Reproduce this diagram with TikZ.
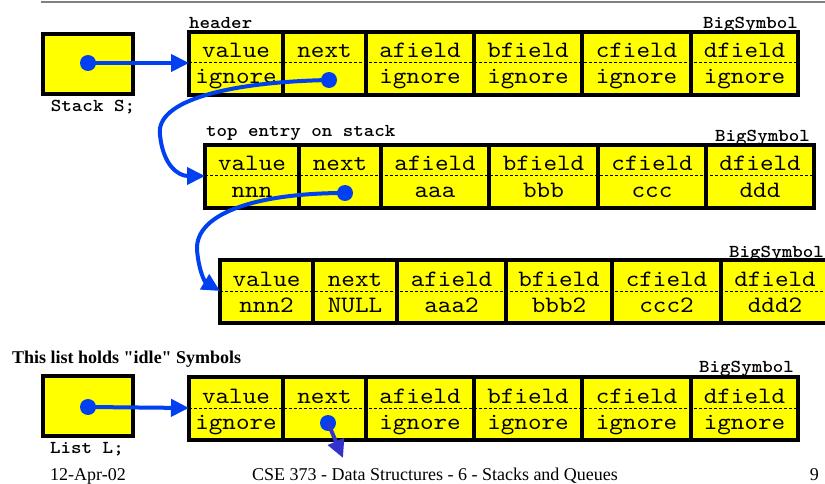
\documentclass[tikz,border=0pt]{standalone}
\usepackage{fontspec}
\setmainfont{Liberation Serif}
\newfontfamily\idlefont[Ligatures=TeXOff]{Liberation Serif}
\newfontfamily\courfont[FakeStretch=1.1, BoldFont=lmmonolt10-bold.otf, BoldFeatures={FakeStretch=1.1}]{lmmono10-regular.otf}
\usetikzlibrary{arrows.meta}
\definecolor{ptrblue}{RGB}{0,64,240}
\definecolor{ptrdark}{RGB}{51,51,204}
\definecolor{cellyellow}{RGB}{255,255,0}
\tikzset{
  fieldtxt/.style={font=\courfont\fontsize{23.5}{24}\selectfont, anchor=base, inner sep=0pt},
  lbl/.style={font=\courfont\bfseries\fontsize{18.2}{19}\selectfont, inner sep=0pt},
  serifbold/.style={font=\idlefont\bfseries\fontsize{18}{20}\selectfont, inner sep=0pt},
  foot/.style={font=\fontsize{18}{20}\selectfont, inner sep=0pt, anchor=base},
  recline/.style={line width=4pt, black},
  midline/.style={line width=1pt, black, dash pattern=on 3pt off 2pt},
  ptrbox/.style={fill=cellyellow, draw=black, line width=4pt},
  ptrdot/.style={circle, fill=ptrblue, minimum size=16pt, inner sep=0pt},
  ptrarrow/.style={ptrblue, line width=4pt, -{Triangle[length=18pt,width=17pt]}},
  ptrarrowdark/.style={ptrdark, line width=4pt, -{Triangle[length=18pt,width=17pt]}},
}
\newcommand\myrecord[5]{% #1 prefix, #2 top, #3 left, #4 right, #5 list
  \foreach \xa/\xb/\up/\lo [count=\i] in {#5} {
    \fill[cellyellow] (\xa,#2) rectangle (\xb,#2+63);
    \node[fieldtxt] (#1u\i) at ({(\xa+\xb)/2},#2+26) {\up};
    \node[fieldtxt] (#1l\i) at ({(\xa+\xb)/2},#2+52) {\lo};
  }
  \draw[midline] (#3,#2+31) -- (#4,#2+31);
  \foreach \xa/\xb/\up/\lo in {#5} {
    \draw[recline] (\xa,#2) -- (\xa,#2+63);
  }
  \draw[recline] (#3,#2) rectangle (#4,#2+63);
}
\begin{document}
\begin{tikzpicture}[x=1pt,y=-1pt]
\clip (0,0) rectangle (825,484);
\fill[white] (0,0) rectangle (825,484);
\draw[gray, line width=1.5pt] (41,2) -- (825,2);

% Stack S pointer box
\node[ptrbox, minimum width=90pt, minimum height=60pt, inner sep=0pt] (sbox) at (88,64) {};
\node[lbl, anchor=base] (stk) at (93,112) {Stack S;};

% header record
\node[lbl, anchor=base west] (hdrlbl) at (189,29) {header};
\node[lbl, anchor=base east] (bs1) at (798,29) {BigSymbol};
\myrecord{a}{32}{189}{798}{189/283/value/ignore, 283/366/next/, 366/474/afield/ignore, 474/582/bfield/ignore, 582/691/cfield/ignore, 691/798/dfield/ignore}

% top entry record
\node[lbl, anchor=base west] (toplbl) at (206,137) {top entry on stack};
\node[lbl, anchor=base east] (bs2) at (810,142) {BigSymbol};
\myrecord{b}{145}{205}{814}{205/299/value/nnn, 299/381/next/, 381/489/afield/aaa, 489/598/bfield/bbb, 598/706/cfield/ccc, 706/814/dfield/ddd}

% third record
\node[lbl, anchor=base east] (bs3) at (824,257) {BigSymbol};
\myrecord{c}{260}{220}{829}{220/313/value/nnn2, 313/397/next/NULL, 397/506/afield/aaa2, 506/612/bfield/bbb2, 612/721/cfield/ccc2, 721/829/dfield/ddd2}

% idle list
\node[serifbold, anchor=base west] (idle) at (12,363) {This list holds "idle" Symbols};
\node[ptrbox, minimum width=90pt, minimum height=60pt, inner sep=0pt] (lbox) at (88,406) {};
\node[lbl, anchor=base] (lstl) at (87,453) {List L;};
\node[lbl, anchor=base east] (bs4) at (794,372) {BigSymbol};
\myrecord{d}{377}{189}{798}{189/283/value/ignore, 283/366/next/, 366/474/afield/ignore, 474/582/bfield/ignore, 582/691/cfield/ignore, 691/798/dfield/ignore}

% pointers
\node[ptrdot] (sdot) at (88,63) {};
\node[ptrdot] (hdot) at (329,80) {};
\node[ptrdot] (tdot) at (345,193) {};
\node[ptrdot] (ldot) at (88,407) {};
\node[ptrdot] (idot) at (328,423) {};
\coordinate (hin) at (189,63);
\coordinate (tin) at (205,176);
\coordinate (cin) at (220,291);
\coordinate (lin) at (189,408);
\coordinate (iend) at (343,458);

\draw[ptrarrow] (sdot.center) -- (hin);
\draw[ptrarrow] (hdot.center) .. controls (230,82) and (155,100) .. (160,135) .. controls (163,165) and (178,176) .. (tin);
\draw[ptrarrow] (tdot.center) .. controls (260,193) and (195,212) .. (197,250) .. controls (199,272) and (205,282) .. (cin);
\draw[ptrarrow] (ldot.center) -- (lin);
\draw[ptrarrowdark] (idot.center) -- (iend);

% footer
\node[foot, anchor=base west] (date) at (50,480) {12-Apr-02};
\node[foot] (title) at (435,480) {CSE 373 - Data Structures - 6 - Stacks and Queues};
\node[foot, anchor=base east] (pg) at (819,480) {9};
\end{tikzpicture}
\end{document}
